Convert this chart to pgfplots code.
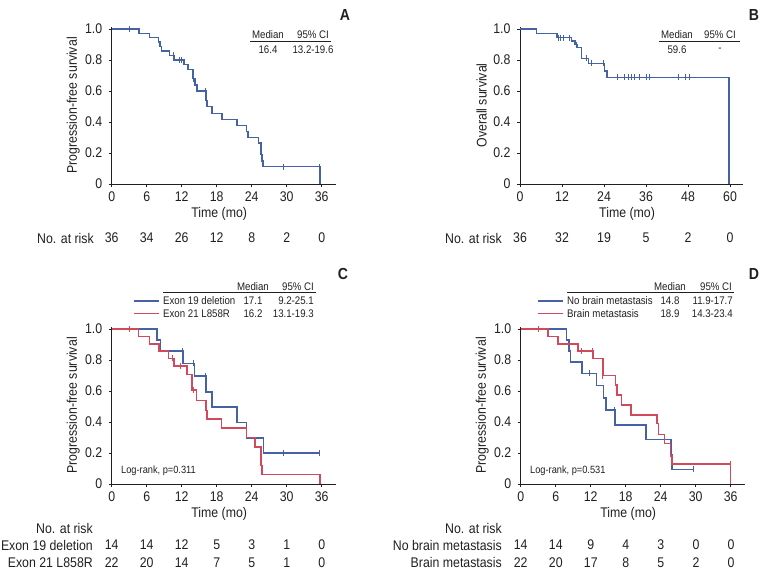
\documentclass[border=0pt]{standalone}
\usepackage{fontspec}
\setmainfont{Liberation Sans}[FakeStretch=0.88]
\usepackage{pgfplots}
\pgfplotsset{compat=1.18}
\definecolor{kmblue}{RGB}{70,98,166}
\definecolor{kmred}{RGB}{210,73,94}
\definecolor{txt}{RGB}{35,31,32}
\newcommand{\mainfs}{\fontsize{14}{16}\selectfont}
\newcommand{\smallfs}{\fontsize{11}{13}\selectfont}
\pgfplotsset{
  km/.style={
    scale only axis, clip=false,
    axis lines=left,
    axis line style={-, line width=1pt, color=txt},
    xmin=0, ymin=0, ymax=1.015,
    ytick={0,0.2,0.4,0.6,0.8,1},
    yticklabels={0,0.2,0.4,0.6,0.8,1.0},
    tick align=outside, major tick length=3pt,
    tick style={line width=0.9pt, color=txt},
    tick label style={font=\mainfs, text=txt},
    label style={font=\mainfs, text=txt},
    /pgf/number format/assume math mode=true,
    height=157.3pt,
    xlabel={Time (mo)},
    xlabel style={at={(axis description cs:0.48,0)}, anchor=center, yshift=-30pt},
    ylabel style={at={(axis description cs:0,0.5)}, anchor=center, yshift=38.5pt},
    xticklabel style={anchor=center, yshift=-10pt},
    yticklabel style={anchor=east, xshift=-3pt},
  },
  curve/.style={const plot, line width=1.5pt, mark=none},
  cens/.style={only marks, mark=|, mark size=3pt, mark options={line width=1pt}},
}
\begin{document}
\begin{tikzpicture}
\path[use as bounding box] (0,0) rectangle (765pt,-575pt);

% ---------------- Panel A ----------------
\begin{axis}[km, at={(111.7pt,-184pt)}, anchor=south west,
  width=224pt, xmax=38.4, xtick={0,6,...,36},
  ylabel={Progression-free survival}]
\addplot[curve, kmblue] coordinates {
(0,1) (4.67,0.972) (6.5,0.944) (8.0,0.915) (8.26,0.887) (8.55,0.858)
(9.9,0.83) (10.7,0.80) (12.36,0.77) (13.05,0.738) (13.96,0.68)
(14.3,0.64) (14.6,0.60) (16.18,0.54) (16.35,0.50) (17.2,0.455)
(18.9,0.415) (21.5,0.376) (23.1,0.34) (23.4,0.30) (25.2,0.265)
(25.6,0.19) (25.75,0.15) (25.9,0.112) (35.7,0)};
\addplot[cens, kmblue] coordinates {
(3.1,1) (10.54,0.83) (11.7,0.80) (12.05,0.80) (14.1,0.68) (16.07,0.60)
(29.5,0.112) (35.7,0.112)};
\end{axis}

% ---------------- Panel B ----------------
\begin{axis}[km, at={(520pt,-184pt)}, anchor=south west,
  width=223pt, xmax=63.7, xtick={0,12,...,60},
  ylabel={Overall survival}]
\addplot[curve, kmblue] coordinates {
(0,1) (4.75,0.972) (10.6,0.944) (14.7,0.922) (15.7,0.90) (16.3,0.88)
(17.5,0.81) (19.5,0.778) (24.2,0.73) (24.9,0.688) (59.7,0)};
\addplot[cens, kmblue] coordinates {
(10.9,0.944) (11.6,0.944) (12.3,0.944) (14.0,0.944) (16.1,0.90)
(18.9,0.81) (20.4,0.778) (23.9,0.778)
(27.8,0.688) (29.9,0.688) (30.9,0.688) (31.8,0.688) (32.6,0.688)
(34.0,0.688) (36.0,0.688) (37.0,0.688) (45.4,0.688) (47.4,0.688) (48.4,0.688)};
\end{axis}

% ---------------- Panel C ----------------
\begin{axis}[km, at={(111.7pt,-484pt)}, anchor=south west,
  width=224pt, xmax=38.4, xtick={0,6,...,36},
  ylabel={Progression-free survival}]
\addplot[curve, kmblue] coordinates {
(0,1) (7.8,0.929) (8.4,0.857) (12.25,0.779) (14.2,0.696) (16.2,0.595)
(17.2,0.496) (21.5,0.397) (23.1,0.298) (26.0,0.199) (35.7,0.199)};
\addplot[cens, kmblue] coordinates {
(12.1,0.857) (14.1,0.779) (16.1,0.696) (29.5,0.199) (35.7,0.199)};
\addplot[curve, kmred] coordinates {
(0,1) (4.56,0.952) (6.5,0.905) (8.1,0.857) (9.7,0.81) (10.7,0.76)
(12.9,0.705) (13.8,0.606) (14.5,0.54) (16.2,0.475) (16.35,0.418)
(18.8,0.36) (23.1,0.30) (24.6,0.238) (25.6,0.12) (25.75,0.06) (35.7,0)};
\addplot[cens, kmred] coordinates {
(3.1,1) (10.5,0.81) (11.8,0.76) (14.1,0.606)};
\end{axis}

% ---------------- Panel D ----------------
\begin{axis}[km, at={(520.7pt,-484pt)}, anchor=south west,
  width=224pt, xmax=38.4, xtick={0,6,...,36},
  ylabel={Progression-free survival}]
\addplot[curve, kmblue] coordinates {
(0,1) (7.86,0.929) (8.26,0.857) (8.55,0.786) (10.5,0.714) (13.0,0.635)
(14.2,0.556) (14.6,0.476) (16.2,0.381) (21.5,0.286) (25.75,0.19)
(25.9,0.095) (29.7,0.095)};
\addplot[cens, kmblue] coordinates {
(11.8,0.714) (16.1,0.476) (29.7,0.095)};
\addplot[curve, kmred] coordinates {
(0,1) (4.67,0.952) (6.4,0.905) (9.8,0.857) (12.36,0.81) (14.07,0.70)
(16.24,0.638) (16.52,0.574) (17.26,0.51) (18.92,0.445) (23.36,0.39)
(23.65,0.318) (24.67,0.262) (25.64,0.182) (25.93,0.128) (36.0,0)};
\addplot[cens, kmred] coordinates {
(3.1,1) (10.43,0.857) (12.25,0.857) (14.07,0.70) (35.9,0.128)};
\end{axis}

% ---------------- Panel letters ----------------
\begin{scope}[every node/.style={font=\fontsize{16}{18}\selectfont\bfseries, text=txt}]
\node at (345pt,-15pt) {A};
\node at (754pt,-15pt) {B};
\node at (343pt,-274pt) {C};
\node at (754pt,-274pt) {D};
\end{scope}

% ---------------- Insets ----------------
\begin{scope}[every node/.style={font=\smallfs, text=txt, inner sep=0pt}]
% A
\node at (268pt,-35pt) {Median};
\node at (313pt,-35pt) {95\% CI};
\draw[txt, line width=0.9pt] (250pt,-41.5pt) -- (331pt,-41.5pt);
\node at (268pt,-50pt) {16.4};
\node at (313pt,-50pt) {13.2-19.6};
% B
\node at (677pt,-35pt) {Median};
\node at (720pt,-35pt) {95\% CI};
\draw[txt, line width=0.9pt] (659pt,-41.5pt) -- (740pt,-41.5pt);
\node at (677pt,-50pt) {59.6};
\node at (720pt,-50pt) {-};
% C
\node at (253pt,-287pt) {Median};
\node at (298pt,-287pt) {95\% CI};
\draw[txt, line width=0.9pt] (163pt,-292.5pt) -- (316pt,-292.5pt);
\draw[kmblue, line width=1.5pt] (134pt,-301pt) -- (159pt,-301pt);
\draw[kmred, line width=1.5pt] (134pt,-313.5pt) -- (159pt,-313.5pt);
\node[anchor=west] at (163pt,-301pt) {Exon 19 deletion};
\node[anchor=west] at (163pt,-313.5pt) {Exon 21 L858R};
\node at (253pt,-301pt) {17.1};
\node at (253pt,-313.5pt) {16.2};
\node[anchor=east] at (314pt,-301pt) {9.2-25.1};
\node[anchor=east] at (314pt,-313.5pt) {13.1-19.3};
\node[anchor=west, font=\fontsize{10.5}{12}\selectfont] at (121pt,-471pt) {Log-rank, p=0.311};
% D
\node at (670pt,-287pt) {Median};
\node at (716pt,-287pt) {95\% CI};
\draw[txt, line width=0.9pt] (567pt,-292.5pt) -- (734pt,-292.5pt);
\draw[kmblue, line width=1.5pt] (538pt,-301pt) -- (563pt,-301pt);
\draw[kmred, line width=1.5pt] (538pt,-313.5pt) -- (563pt,-313.5pt);
\node[anchor=west] at (567pt,-301pt) {No brain metastasis};
\node[anchor=west] at (567pt,-313.5pt) {Brain metastasis};
\node at (670pt,-301pt) {14.8};
\node at (670pt,-313.5pt) {18.9};
\node[anchor=east] at (733pt,-301pt) {11.9-17.7};
\node[anchor=east] at (733pt,-313.5pt) {14.3-23.4};
\node[anchor=west, font=\fontsize{10.5}{12}\selectfont] at (530pt,-471pt) {Log-rank, p=0.531};
\end{scope}

% ---------------- Numbers at risk ----------------
\begin{scope}[every node/.style={font=\mainfs, text=txt}]
% A
\node[anchor=east, inner sep=0pt] at (94pt,-238pt) {No. at risk};
\foreach \n [count=\i from 0] in {36,34,26,12,8,2,0}
  \node at ({111.7pt+35pt*\i},-238pt) {\n};
% B
\node[anchor=east, inner sep=0pt] at (502pt,-238pt) {No. at risk};
\foreach \n [count=\i from 0] in {36,32,19,5,2,0}
  \node at ({520pt+42pt*\i},-238pt) {\n};
% C
\node[anchor=east, inner sep=0pt] at (93pt,-528pt) {No. at risk};
\node[anchor=east, inner sep=0pt] at (93pt,-545pt) {Exon 19 deletion};
\node[anchor=east, inner sep=0pt] at (93pt,-562.7pt) {Exon 21 L858R};
\foreach \n [count=\i from 0] in {14,14,12,5,3,1,0}
  \node at ({111.7pt+35pt*\i},-545pt) {\n};
\foreach \n [count=\i from 0] in {22,20,14,7,5,1,0}
  \node at ({111.7pt+35pt*\i},-562.7pt) {\n};
% D
\node[anchor=east, inner sep=0pt] at (502pt,-528pt) {No. at risk};
\node[anchor=east, inner sep=0pt] at (502pt,-545pt) {No brain metastasis};
\node[anchor=east, inner sep=0pt] at (502pt,-562.7pt) {Brain metastasis};
\foreach \n [count=\i from 0] in {14,14,9,4,3,0,0}
  \node at ({520.7pt+35.05pt*\i},-545pt) {\n};
\foreach \n [count=\i from 0] in {22,20,17,8,5,2,0}
  \node at ({520.7pt+35.05pt*\i},-562.7pt) {\n};
\end{scope}
\end{tikzpicture}
\end{document}
